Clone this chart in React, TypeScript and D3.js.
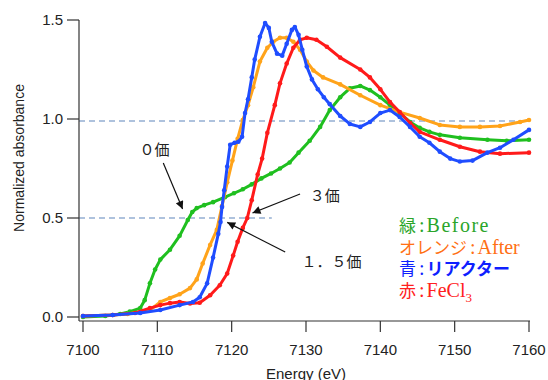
import React from 'react';
import * as d3 from 'd3';

// [energy eV, normalized absorbance]
const before: [number, number][] = [
  [7100, 0.0], [7103, 0.005], [7105, 0.015], [7106.3, 0.027], [7107.7, 0.045], [7108.3, 0.085],
  [7109, 0.17], [7109.7, 0.24], [7110.4, 0.29], [7111.7, 0.34], [7113, 0.41], [7114.1, 0.49],
  [7114.7, 0.53], [7115.3, 0.55], [7116.3, 0.565], [7117.5, 0.58], [7119.1, 0.605], [7120.3, 0.625],
  [7121.5, 0.645], [7122.7, 0.67], [7124, 0.7], [7125.3, 0.725], [7126.5, 0.75], [7127.8, 0.78],
  [7129, 0.83], [7130.5, 0.89], [7131.9, 0.96], [7133.2, 1.045], [7134.6, 1.11], [7135.9, 1.155],
  [7137.3, 1.167], [7138.6, 1.146], [7140, 1.11], [7141.3, 1.07], [7142.6, 1.03], [7144, 0.985],
  [7145.3, 0.955], [7146.6, 0.935], [7148, 0.92], [7150.7, 0.905], [7154.4, 0.895], [7157, 0.89],
  [7160, 0.895],
];

const after: [number, number][] = [
  [7100, 0.005], [7104, 0.01], [7106, 0.015], [7107.7, 0.025], [7109, 0.035], [7110.4, 0.076],
  [7111.7, 0.096], [7113, 0.115], [7114.4, 0.146], [7115.3, 0.19], [7116.1, 0.27], [7117.1, 0.364],
  [7118, 0.44], [7118.7, 0.56], [7119.4, 0.68], [7120.1, 0.79], [7120.8, 0.9], [7121.5, 0.995],
  [7122.2, 1.07], [7122.9, 1.16], [7123.8, 1.29], [7124.8, 1.36], [7125.6, 1.39], [7126.5, 1.41],
  [7127.4, 1.41], [7128.3, 1.39], [7129.2, 1.35], [7130.1, 1.29], [7131, 1.245], [7132.3, 1.21],
  [7134.6, 1.175], [7137.3, 1.12], [7140, 1.07], [7142.6, 1.035], [7145.3, 1.005], [7148, 0.97],
  [7150.7, 0.96], [7153.4, 0.96], [7156.1, 0.965], [7158.8, 0.985], [7160, 0.995],
];

const reactor: [number, number][] = [
  [7100, 0.005], [7104, 0.01], [7107.7, 0.02], [7110.4, 0.035], [7113, 0.06], [7114.8, 0.076],
  [7115.7, 0.1], [7116.7, 0.17], [7117.5, 0.3], [7118.2, 0.42], [7118.5, 0.48], [7118.7, 0.555],
  [7119, 0.64], [7119.4, 0.76], [7119.8, 0.87], [7120.4, 0.88], [7120.9, 0.885], [7121.4, 0.91],
  [7121.8, 1.03], [7122.2, 1.1], [7122.7, 1.21], [7123.1, 1.3], [7123.8, 1.415], [7124.5, 1.485],
  [7125, 1.46], [7125.4, 1.39], [7126.1, 1.33], [7126.8, 1.32], [7127.4, 1.38], [7128.1, 1.45],
  [7128.5, 1.465], [7129, 1.425], [7129.5, 1.35], [7130.1, 1.265], [7130.8, 1.2], [7131.6, 1.15],
  [7132.4, 1.11], [7133.2, 1.075], [7134.6, 1.015], [7135.9, 0.975], [7137.3, 0.96], [7138.6, 0.985],
  [7140, 1.03], [7141.3, 1.045], [7142.6, 1.01], [7144, 0.96], [7145.3, 0.91], [7146.6, 0.88],
  [7148, 0.835], [7149.4, 0.8], [7150.7, 0.785], [7152.4, 0.79], [7154.4, 0.83], [7156.1, 0.855],
  [7157.9, 0.895], [7160, 0.945],
];

const fecl3: [number, number][] = [
  [7100, 0.005], [7104, 0.01], [7107, 0.02], [7109, 0.045], [7110.4, 0.06], [7111.7, 0.07],
  [7113, 0.076], [7114.4, 0.068], [7115.7, 0.072], [7117.1, 0.11], [7118.4, 0.16], [7119.4, 0.22],
  [7120.2, 0.31], [7120.8, 0.38], [7121.5, 0.45], [7122.1, 0.5], [7122.7, 0.59], [7123.5, 0.72],
  [7124.1, 0.8], [7124.8, 0.93], [7125.8, 1.07], [7126.5, 1.18], [7127.4, 1.28], [7128.3, 1.36],
  [7129.2, 1.4], [7130.1, 1.41], [7131.4, 1.4], [7132.8, 1.365], [7134.6, 1.31], [7137.3, 1.25],
  [7138.6, 1.21], [7140, 1.15], [7141.3, 1.085], [7142.6, 1.035], [7144, 0.98], [7145.3, 0.935],
  [7148, 0.895], [7150.7, 0.86], [7153.4, 0.835], [7156.1, 0.825], [7160, 0.83],
];

const series = [
  { name: 'before', color: '#1fbf1f', data: before },
  { name: 'after', color: '#ffa31a', data: after },
  { name: 'fecl3', color: '#ff1a1a', data: fecl3 },
  { name: 'reactor', color: '#1f4dff', data: reactor },
];

const xTicks = [7100, 7110, 7120, 7130, 7140, 7150, 7160];
const yTicks = [0, 0.5, 1.0, 1.5];

// dashed guide lines: value and the energy where the line ends
const guides = [
  { v: 0.99, end: 7160.1 },
  { v: 0.5, end: 7125.4 },
];

const annotations = [
  { text: '０価', at: [7107.6, 0.818], from: [7110.8, 0.778], to: [7113.4, 0.545] },
  { text: '３価', at: [7130.5, 0.586], from: [7129.2, 0.621], to: [7122.8, 0.525] },
  { text: '１．５価', at: [7129.4, 0.253], from: [7127.2, 0.328], to: [7119.4, 0.478] },
];

const legend = [
  { jp: '緑', en: 'Before', color: '#2aa52a' },
  { jp: 'オレンジ', en: 'After', color: '#ff7014' },
  { jp: '青', jp2: 'リアクター', color: '#0f1fff' },
  { jp: '赤', en: 'FeCl', sub: '3', color: '#ff2020' },
];

const sans = '"Liberation Sans", Arial, sans-serif';
const cjk = '"Noto Sans CJK JP", sans-serif';
const serif = '"Liberation Serif", "Times New Roman", serif';

export default function App() {
  const width = 548;
  const height = 380;

  const x = d3.scaleLinear().domain([7100, 7160]).range([83, 529]);
  const y = d3.scaleLinear().domain([0, 1.5]).range([317, 20]);

  const line = d3.line<[number, number]>()
    .x(d => x(d[0]))
    .y(d => y(d[1]));

  const axisLeft = 79;
  const axisBottom = 321;

  return (
    <svg width={width} height={height} style={{ position: 'absolute', left: 0, top: 0 }}>
      <defs>
        <marker id="arrow" viewBox="0 0 10 10" refX="10" refY="5" markerWidth="10" markerHeight="8"
          markerUnits="userSpaceOnUse" orient="auto">
          <path d="M0,0 L10,5 L0,10 Z" fill="#111" />
        </marker>
      </defs>
      <rect width={width} height={height} fill="#fff" />

      {guides.map((g, i) => (
        <line key={i} x1={axisLeft} x2={x(g.end)} y1={y(g.v)} y2={y(g.v)}
          stroke="#5f86bb" strokeWidth={1.1} strokeDasharray="6,4" />
      ))}

      {series.map(s => (
        <g key={s.name}>
          <path d={line(s.data) ?? ''} fill="none" stroke={s.color} strokeWidth={3} strokeLinejoin="round" />
          {s.data.map((d, i) => (
            <circle key={i} cx={x(d[0])} cy={y(d[1])} r={2.3} fill={s.color} />
          ))}
        </g>
      ))}

      {/* axes */}
      <line x1={axisLeft} x2={axisLeft} y1={y(1.5)} y2={axisBottom} stroke="#333" strokeWidth={1.2} />
      {yTicks.map(t => (
        <g key={t}>
          <line x1={axisLeft - 12} x2={axisLeft} y1={y(t)} y2={y(t)} stroke="#333" strokeWidth={1.2} />
          <text x={axisLeft - 16} y={y(t)} dy="0.35em" textAnchor="end" fontFamily={sans} fontSize={15} fill="#222">
            {t.toFixed(1)}
          </text>
        </g>
      ))}
      <line x1={axisLeft} x2={530} y1={axisBottom} y2={axisBottom} stroke="#333" strokeWidth={1.2} />
      {xTicks.map(t => (
        <g key={t}>
          <line x1={x(t)} x2={x(t)} y1={axisBottom} y2={axisBottom + 11} stroke="#333" strokeWidth={1.2} />
          <text x={x(t)} y={355} textAnchor="middle" fontFamily={sans} fontSize={15} fill="#222">{t}</text>
        </g>
      ))}
      <text x={306} y={379} textAnchor="middle" fontFamily={sans} fontSize={15} fill="#222">Energy (eV)</text>
      <text transform="translate(24,158) rotate(-90)" textAnchor="middle" fontFamily={sans} fontSize={14} fill="#222">
        Normalized absorbance
      </text>

      {/* annotations */}
      {annotations.map((a, i) => (
        <g key={i}>
          <text x={x(a.at[0])} y={y(a.at[1])} fontFamily={cjk} fontSize={15} fill="#222">{a.text}</text>
          <line x1={x(a.from[0])} y1={y(a.from[1])} x2={x(a.to[0])} y2={y(a.to[1])}
            stroke="#111" strokeWidth={1.2} markerEnd="url(#arrow)" />
        </g>
      ))}

      {/* legend */}
      {legend.map((l, i) => (
        <text key={i} x={399} y={232 + i * 21.7} fill={l.color}>
          <tspan fontFamily={cjk} fontSize={17}>{l.jp}</tspan>
          <tspan fontFamily={serif} fontSize={20} dx={3}>:</tspan>
          {l.jp2 && <tspan fontFamily={cjk} fontSize={17} fontWeight={700} dx={2}>{l.jp2}</tspan>}
          {l.en && <tspan fontFamily={serif} fontSize={20} dx={2} letterSpacing={l.en === 'Before' ? 1.5 : 0}>{l.en}</tspan>}
          {l.sub && <tspan fontFamily={serif} fontSize={13} dy={5}>{l.sub}</tspan>}
        </text>
      ))}
    </svg>
  );
}
